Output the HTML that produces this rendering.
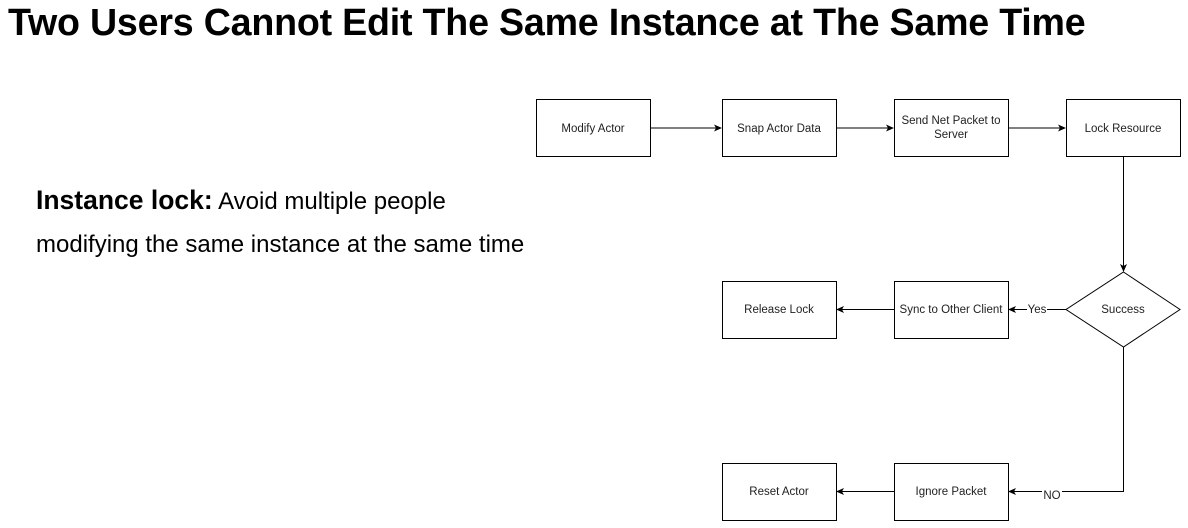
<!DOCTYPE html>
<html><head><style>
body{margin:0;width:1188px;height:528px;background:#fff;overflow:hidden;font-family:"Liberation Sans",Arial,sans-serif;position:relative}
.t{position:absolute;left:8px;top:1px;font-size:37.6px;font-weight:bold;color:#000;white-space:nowrap;letter-spacing:-0.2px}
.p{position:absolute;left:36px;font-size:24px;color:#000;white-space:nowrap}
</style></head><body>
<div class="t">Two Users Cannot Edit The Same Instance at The Same Time</div>
<div class="p" style="top:185px"><b style="font-size:26.5px">Instance lock:</b> Avoid multiple people</div>
<div class="p" style="top:231px">modifying the same instance at the same time</div>
<svg width="1188" height="528" style="position:absolute;left:0;top:0" font-family="Liberation Sans,Arial,sans-serif" font-size="11.5">
<defs><marker id="a" markerWidth="8" markerHeight="8" refX="7" refY="4" orient="auto" markerUnits="userSpaceOnUse"><path d="M0,0.5 L8,4 L0,7.5 L2,4z" fill="#000"/></marker></defs>
<g fill="#fff" stroke="#000" stroke-width="1">
<rect x="536.5" y="99.5" width="114" height="57"/>
<rect x="722.5" y="99.5" width="114" height="57"/>
<rect x="894.5" y="99.5" width="114" height="57"/>
<rect x="1066.5" y="99.5" width="114" height="57"/>
<rect x="722.5" y="281.5" width="114" height="57"/>
<rect x="894.5" y="281.5" width="114" height="57"/>
<rect x="722.5" y="463.5" width="114" height="57"/>
<rect x="894.5" y="463.5" width="114" height="57"/>
<path d="M1123.5,272 L1180,309.5 L1123.5,347 L1066,309.5z"/>
</g>
<g stroke="#000" fill="none">
<path d="M650.5,128 H721" marker-end="url(#a)"/>
<path d="M836.5,128 H893" marker-end="url(#a)"/>
<path d="M1008.5,128 H1065" marker-end="url(#a)"/>
<path d="M1123.5,156.5 V271" marker-end="url(#a)"/>
<path d="M1066,309.5 H1009" marker-end="url(#a)"/>
<path d="M894.5,309.5 H837" marker-end="url(#a)"/>
<path d="M1123.5,347 V491.5 H1009" marker-end="url(#a)"/>
<path d="M894.5,491.5 H837" marker-end="url(#a)"/>
</g>
<rect x="1027" y="303" width="20" height="13" fill="#fff"/>
<rect x="1042" y="486" width="20" height="13" fill="#fff"/>
<g fill="#222" text-anchor="middle">
<text x="593" y="132">Modify Actor</text>
<text x="779" y="132">Snap Actor Data</text>
<text x="951" y="124">Send Net Packet to</text>
<text x="951" y="138">Server</text>
<text x="1123" y="132">Lock Resource</text>
<text x="779" y="313">Release Lock</text>
<text x="951" y="313">Sync to Other Client</text>
<text x="1123" y="313">Success</text>
<text x="1037" y="313">Yes</text>
<text x="779" y="495">Reset Actor</text>
<text x="951" y="495">Ignore Packet</text>
<text x="1052" y="499">NO</text>
</g>
</svg>
</body></html>
